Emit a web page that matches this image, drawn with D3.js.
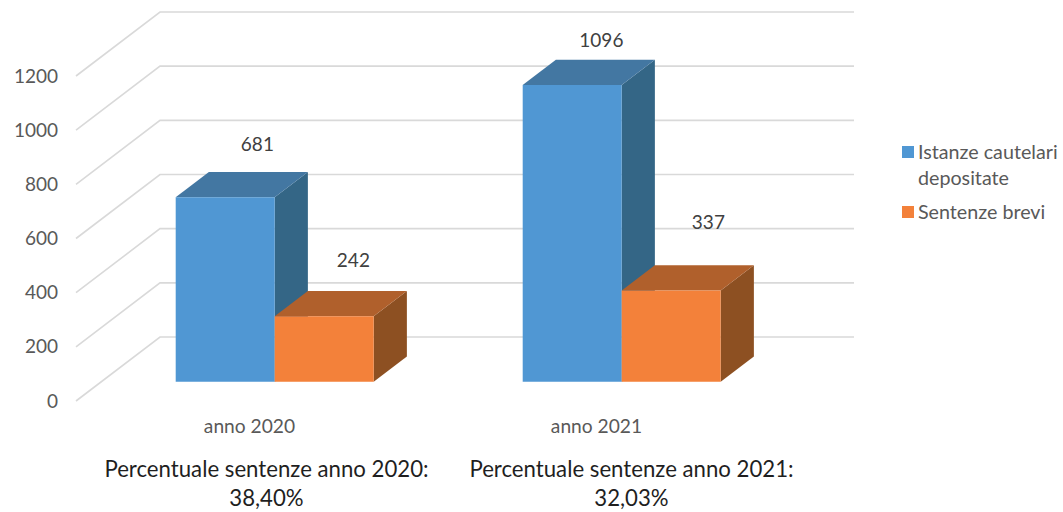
<!DOCTYPE html>
<html>
<head>
<meta charset="utf-8">
<script src="https://cdn.jsdelivr.net/npm/d3@7"></script>
<style>
  html, body { margin: 0; padding: 0; background: #fff; }
  svg { display: block; }
  text { font-family: Lato, "Open Sans", sans-serif; }
</style>
</head>
<body>
<svg id="chart" width="1063" height="512"></svg>
<script>
const categories = ["anno 2020", "anno 2021"];
const seriesNames = ["Istanze cautelari depositate", "Sentenze brevi"];
const istanze = [681, 1096];
const sentenze = [242, 337];
const yTicks = [0, 200, 400, 600, 800, 1000, 1200];
const notes = [
  ["Percentuale sentenze anno 2020:", "38,40%"],
  ["Percentuale sentenze anno 2021:", "32,03%"]
];

const svg = d3.select("#chart");

// Oblique projection of the 3D column chart: the floor runs from the front
// edge to the back wall, shifting every point right and up.
const front = { x: 76, y: 401 };
const back = { x: 160, y: 337 };
const wallWidth = 694;
const x = d3.scaleBand().domain(categories).range([0, wallWidth]);
const y = d3.scaleLinear().domain([0, 1200]).range([0, 325]);

function project(px, d, v) {
  return [
    front.x + (back.x - front.x) * d + px,
    front.y + (back.y - front.y) * d - y(v)
  ];
}
const poly = pts => pts.map(p => p.join(",")).join(" ");

// Walls: each tick draws a side-wall diagonal and a back-wall line
const grid = svg.append("g").attr("fill", "none").attr("stroke", "#d9d9d9").attr("stroke-width", 1.6);
yTicks.forEach(t => {
  grid.append("polyline").attr("points", poly([
    project(0, 0, t), project(0, 1, t), project(wallWidth, 1, t)
  ]));
});

// Value axis labels
svg.append("g").selectAll("text").data(yTicks).join("text")
  .attr("x", 58).attr("y", d => project(0, 0, d)[1])
  .attr("dy", "0.35em").attr("text-anchor", "end")
  .attr("font-size", 19).attr("fill", "#595959")
  .text(d => d);

// Columns
const barWidth = 99;
const depthNear = 0.30, depthFar = 0.695;
const palettes = [
  { front: "#5097d3", top: "#4377a2", side: "#346686" },
  { front: "#f3813a", top: "#b0602c", side: "#8d5022" }
];
const series = [istanze, sentenze];

// Hand-placed nudges for the data labels, per series then per category
const labelNudge = [
  [[-1, -21], [-4, -13]],
  [[-4, -24], [4, -36]]
];

function drawBar(g, x0, value, c) {
  const x1 = x0 + barWidth;
  g.append("polygon").attr("fill", c.side).attr("points", poly([
    project(x1, depthNear, 0), project(x1, depthFar, 0),
    project(x1, depthFar, value), project(x1, depthNear, value)
  ]));
  g.append("polygon").attr("fill", c.top).attr("points", poly([
    project(x0, depthNear, value), project(x1, depthNear, value),
    project(x1, depthFar, value), project(x0, depthFar, value)
  ]));
  g.append("polygon").attr("fill", c.front).attr("points", poly([
    project(x0, depthNear, 0), project(x1, depthNear, 0),
    project(x1, depthNear, value), project(x0, depthNear, value)
  ]));
}

const bars = svg.append("g");
const labels = svg.append("g");
categories.forEach((cat, i) => {
  const mid = x(cat) + x.bandwidth() / 2;
  series.forEach((vals, s) => {
    const x0 = mid + (s - 1) * barWidth;
    drawBar(bars, x0, vals[i], palettes[s]);
    const anchor = project(x0 + barWidth / 2, depthFar, vals[i]);
    labels.append("text")
      .attr("x", anchor[0] + labelNudge[s][i][0]).attr("y", anchor[1] + labelNudge[s][i][1])
      .attr("text-anchor", "middle").attr("font-size", 19)
      .attr("fill", "#404040").text(vals[i]);
  });

  // Category label under the floor's front edge
  svg.append("text")
    .attr("x", project(mid, 0, 0)[0]).attr("y", 433)
    .attr("text-anchor", "middle").attr("font-size", 19.2)
    .attr("fill", "#595959").text(cat);
});

// Percentage notes below the chart
const noteCentres = [266.5, 631.5];
notes.forEach((lines, i) => {
  lines.forEach((line, j) => {
    svg.append("text")
      .attr("x", noteCentres[i]).attr("y", 477 + j * 29)
      .attr("text-anchor", "middle").attr("font-size", 22.2)
      .attr("fill", "#1f1f1f").text(line);
  });
});

// Legend
const legend = svg.append("g").attr("font-size", 19.7).attr("fill", "#595959");
legend.append("rect").attr("x", 902).attr("y", 146).attr("width", 12).attr("height", 12).attr("fill", palettes[0].front);
legend.append("text").attr("x", 918).attr("y", 159).text("Istanze cautelari");
legend.append("text").attr("x", 918).attr("y", 185).text("depositate");
legend.append("rect").attr("x", 902).attr("y", 206).attr("width", 12).attr("height", 12).attr("fill", palettes[1].front);
legend.append("text").attr("x", 918).attr("y", 219).text(seriesNames[1]);
</script>
</body>
</html>
